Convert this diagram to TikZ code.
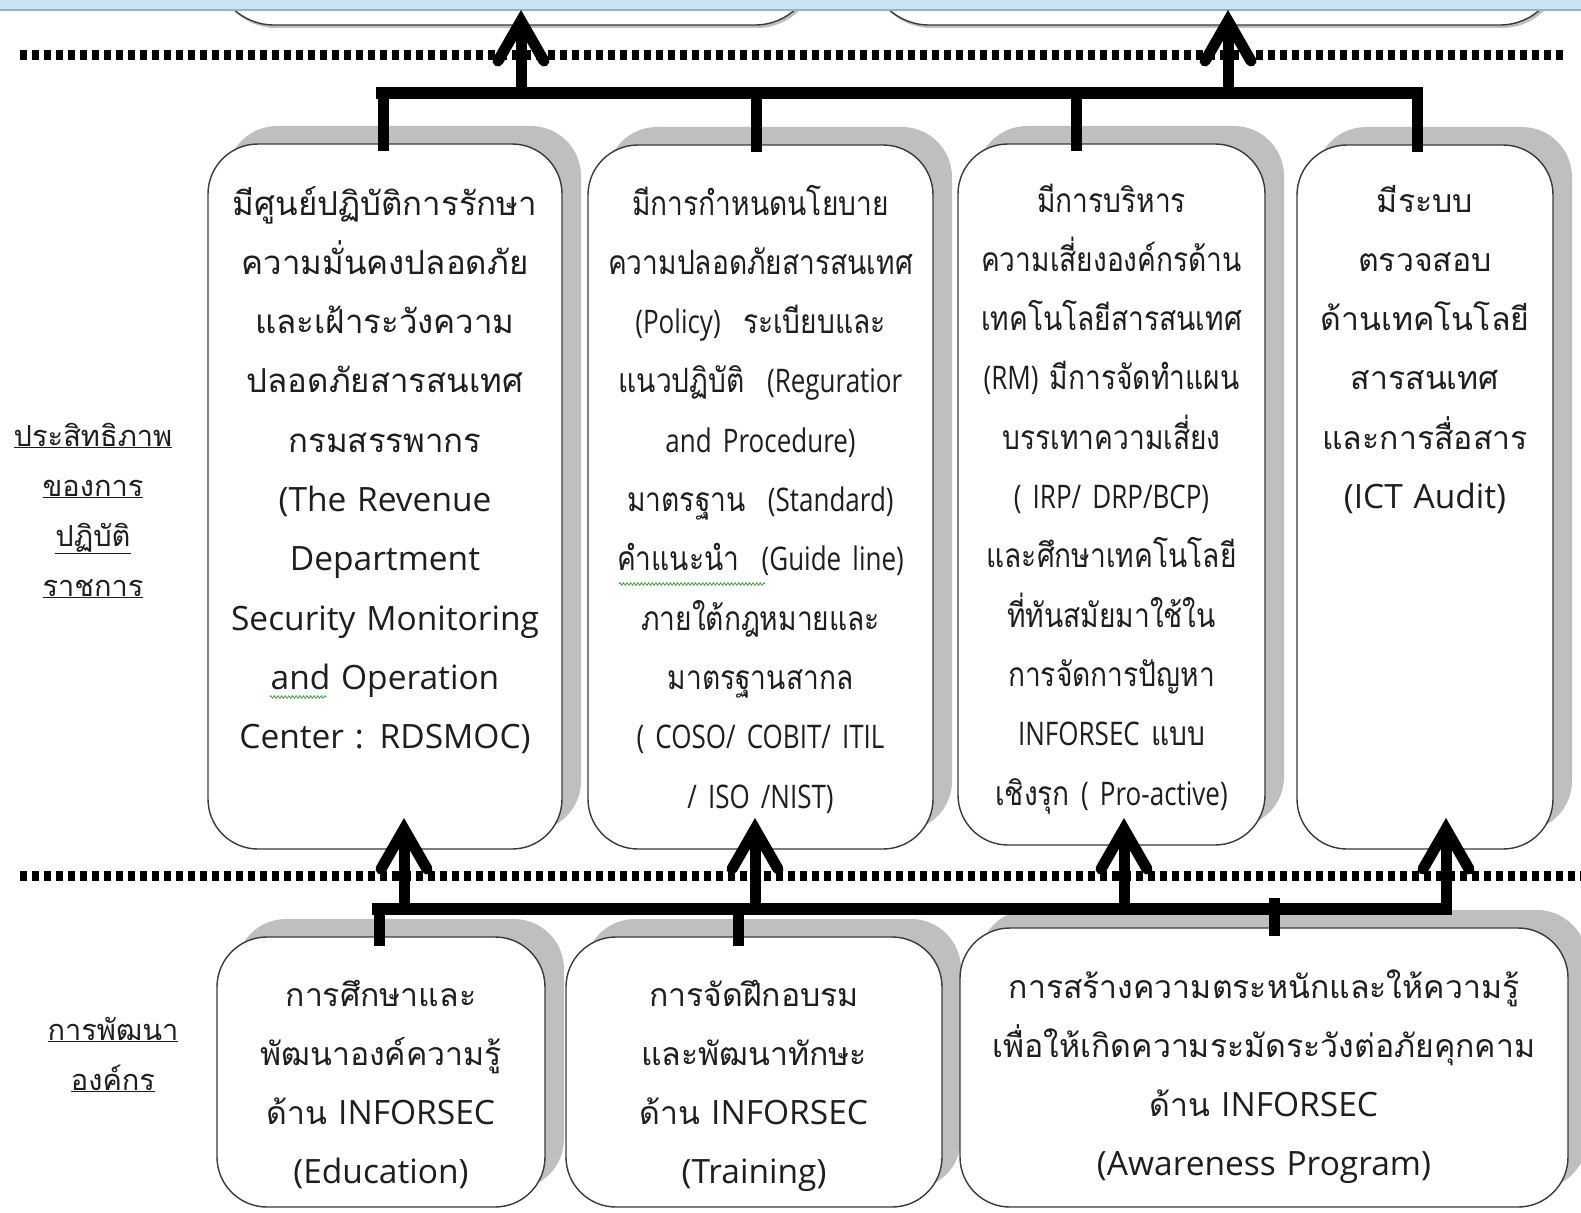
\documentclass[tikz,border=0pt]{standalone}
\usepackage{fontspec}
\setmainfont{Loma}[Script=Thai]
\newfontfamily\condfont{Loma}[Script=Thai,FakeStretch=0.84]
\newfontfamily\latinfont{Open Sans}
\newfontfamily\clatinfont{Open Sans}[FakeStretch=0.8]
\newcommand\eng[1]{{\latinfont\fontsize{33.5}{59.3}\selectfont #1}}
\newcommand\ceng[1]{{\clatinfont\fontsize{32.5}{59.3}\selectfont #1}}
\usetikzlibrary{calc,shadows,decorations.pathmorphing}

\definecolor{shade}{HTML}{BFBFBF}
\definecolor{edge}{HTML}{3A3A3A}
\definecolor{band}{HTML}{C8E4F2}
\definecolor{bandline}{HTML}{8DB6CF}
\definecolor{squig}{HTML}{3CA63C}
\definecolor{ink}{HTML}{1E1E1E}

\tikzset{
  card/.style={draw=edge, line width=1.4pt, fill=white, rounded corners=50pt, inner sep=0pt,
    general shadow={fill=shade, shadow xshift=19pt, shadow yshift=18pt}},
  topcard/.style={draw=edge, line width=1.4pt, fill=white, rounded corners=60pt, inner sep=0pt,
    general shadow={fill=shade, shadow xshift=2pt, shadow yshift=-3pt}},
  txt/.style={anchor=base, align=center, inner sep=0pt, text=ink,
    font=\fontsize{32}{59.3}\selectfont},
  ctxt/.style={txt, font=\condfont\fontsize{33.5}{59.3}\selectfont},
  sidetxt/.style={anchor=base, align=center, inner sep=0pt, text=ink, text width=220pt,
    font=\fontsize{29}{50}\selectfont},
  sepline/.style={line width=10pt, dash pattern=on 7pt off 5pt},
  bus/.style={line width=12pt},
  stub/.style={line width=11pt},
  shaft/.style={line width=11pt},
  headline/.style={line width=11pt, line cap=round, line join=miter, miter limit=10},
  vhead/.pic={\draw[headline] (-23,40) -- (0,0) -- (23,40);},
  squiggle/.style={draw=squig, line width=0.8pt, decorate,
    decoration={zigzag, amplitude=1.3pt, segment length=3.6pt}},
}

\begin{document}
\begin{tikzpicture}[x=1pt,y=-1pt]
\useasboundingbox (0,0) rectangle (1581,1212);
\clip (0,0) rectangle (1581,1212);

% boxes of the next level, cut by the top edge
\node[topcard, minimum width=601pt, minimum height=160pt] (ta) at (514.5,-55) {};
\node[topcard, minimum width=691pt, minimum height=160pt] (tb) at (1214.5,-55) {};

% window band
\fill[band] (0,0) rectangle (1581,10);
\draw[bandline, line width=1.2pt] (0,10) -- (1581,10);

% separators between levels
\draw[sepline] (20,55) -- (1565,55);
\draw[sepline] (20,876) -- (1581,876);

% ---------- middle level ----------
\node[card, minimum width=354pt, minimum height=705pt] (b1) at (385,496.5) {};
\node[card, minimum width=345pt, minimum height=704pt] (b2) at (760.5,497) {};
\node[card, minimum width=307pt, minimum height=701pt] (b3) at (1111.5,494.5) {};
\node[card, minimum width=256pt, minimum height=704pt] (b4) at (1425,497) {};

\node[txt, text width=380pt] (b1t) at (385,215) {%
{\fontsize{33}{59.3}\selectfont มีศูนย์ปฏิบัติการรักษา}\\
{\fontsize{33}{59.3}\selectfont ความมั่นคงปลอดภัย}\\
{\fontsize{33}{59.3}\selectfont และเฝ้าระวังความ}\\
{\fontsize{33}{59.3}\selectfont ปลอดภัยสารสนเทศ}\\
{\fontsize{33}{59.3}\selectfont กรมสรรพากร}\\
\eng{(The Revenue}\\
\eng{Department}\\
\eng{Security Monitoring}\\
\eng{and Operation}\\
\eng{Center : RDSMOC)}};

\node[ctxt, text width=380pt] (b2t) at (760.5,215) {%
มีการกำหนดนโยบาย\\
ความปลอดภัยสารสนเทศ\\
\ceng{(Policy)\ \ }ระเบียบและ\\
แนวปฏิบัติ\ceng{\ \ (Reguratior}\\
\ceng{and Procedure)}\\
มาตรฐาน\ceng{\ \ (Standard)}\\
คำแนะนำ\ceng{\ \ (Guide line)}\\
ภายใต้กฎหมายและ\\
มาตรฐานสากล\\
\ceng{( COSO/ COBIT/ ITIL}\\
\ceng{/ ISO /NIST)}};

\node[ctxt, text width=380pt] (b3t) at (1111.5,212) {%
มีการบริหาร\\
ความเสี่ยงองค์กรด้าน\\
เทคโนโลยีสารสนเทศ\\
\ceng{(RM) }มีการจัดทำแผน\\
บรรเทาความเสี่ยง\\
\ceng{( IRP/ DRP/BCP)}\\
และศึกษาเทคโนโลยี\\
ที่ทันสมัยมาใช้ใน\\
การจัดการปัญหา\\
\ceng{INFORSEC }แบบ\\
เชิงรุก\ceng{ ( Pro-active)}};

\node[txt, text width=300pt] (b4t) at (1425,212) {%
มีระบบ\\
ตรวจสอบ\\
ด้านเทคโนโลยี\\
สารสนเทศ\\
และการสื่อสาร\\
\eng{(ICT Audit)}};

% spelling marks under two words
\draw[squiggle] (270,697) -- (327,697);
\draw[squiggle] (619,584) -- (765,584);

% ---------- lower level ----------
\node[card, minimum width=328pt, minimum height=270pt] (b5) at (381,1072) {};
\node[card, minimum width=376pt, minimum height=270pt] (b6) at (754,1072) {};
\node[card, minimum width=608pt, minimum height=279pt] (b7) at (1264,1067.5) {};

\node[txt, text width=360pt] (b5t) at (381,1006) {%
การศึกษาและ\\
พัฒนาองค์ความรู้\\
ด้าน \eng{INFORSEC}\\
\eng{(Education)}};

\node[txt, text width=380pt] (b6t) at (754,1006) {%
การจัดฝึกอบรม\\
และพัฒนาทักษะ\\
ด้าน \eng{INFORSEC}\\
\eng{(Training)}};

\node[txt, text width=600pt] (b7t) at (1264,998) {%
การสร้างความตระหนักและให้ความรู้\\
เพื่อให้เกิดความระมัดระวังต่อภัยคุกคาม\\
ด้าน \eng{INFORSEC}\\
\eng{(Awareness Program)}};

% ---------- row labels ----------
\node[sidetxt] (lab1) at (93,446) {%
\underline{ประสิทธิภาพ}\\
\underline{ของการ}\\
\underline{ปฏิบัติ}\\
\underline{ราชการ}};
\node[sidetxt] (lab2) at (113,1040) {%
\underline{การพัฒนา}\\
\underline{องค์กร}};

% ---------- upper collector ----------
\coordinate (tbL) at (376,93);
\coordinate (tbR) at (1423,93);
\coordinate (s1) at (383,93);
\coordinate (s2) at (756,93);
\coordinate (s3) at (1076,93);
\coordinate (s4) at (1417,93);
\draw[bus] (tbL) -- (tbR);
\draw[stub] (s1) -- ($(s1 |- b1.north)+(0,8)$);
\draw[stub] (s2) -- ($(s2 |- b2.north)+(0,8)$);
\draw[stub] (s3) -- ($(s3 |- b3.north)+(0,8)$);
\draw[stub] (s4) -- ($(s4 |- b4.north)+(0,8)$);

\coordinate (u1) at (521,93);
\coordinate (u2) at (1228,93);
\coordinate (ut1) at (521,21);
\coordinate (ut2) at (1228,21);
\draw[shaft] (u1) -- (ut1);
\draw[shaft] (u2) -- (ut2);
\pic at (ut1) {vhead};
\pic at (ut2) {vhead};

% ---------- lower collector ----------
\coordinate (bbL) at (372,909);
\coordinate (bbR) at (1452,909);
\coordinate (d1) at (379,909);
\coordinate (d2) at (738,909);
\coordinate (d3) at (1274,898);
\draw[bus] (bbL) -- (bbR);
\draw[stub] (d1) -- ($(d1 |- b5.north)+(0,10)$);
\draw[stub] (d2) -- ($(d2 |- b6.north)+(0,10)$);
\draw[stub] (d3) -- ($(d3 |- b7.north)+(0,9)$);

\coordinate (a1) at (404,909);
\coordinate (a2) at (755,909);
\coordinate (a3) at (1124,909);
\coordinate (a4) at (1446,909);
\coordinate (at1) at (404,829);
\coordinate (at2) at (755,829);
\coordinate (at3) at (1124,829);
\coordinate (at4) at (1446,829);
\draw[shaft] (a1) -- (at1);
\draw[shaft] (a2) -- (at2);
\draw[shaft] (a3) -- (at3);
\draw[shaft] ($(a4)+(0,6)$) -- (at4);
\pic at (at1) {vhead};
\pic at (at2) {vhead};
\pic at (at3) {vhead};
\pic at (at4) {vhead};
\end{tikzpicture}
\end{document}
